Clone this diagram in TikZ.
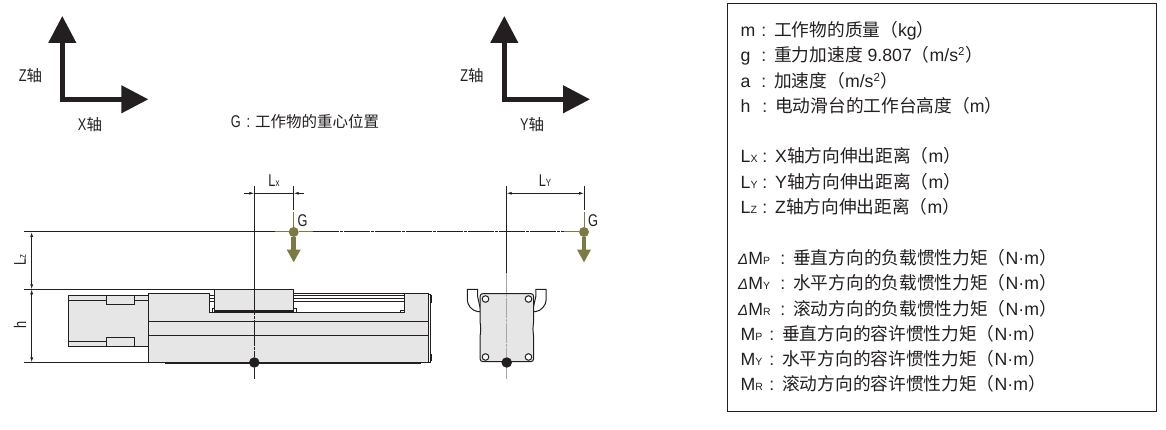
\documentclass[tikz,border=0pt]{standalone}
\usepackage{fontspec}
\setmainfont{Liberation Sans}
\newfontfamily\cjk{Noto Sans CJK SC}
\newfontfamily\narrowfont[FakeStretch=0.75]{Liberation Sans}
\usetikzlibrary{arrows.meta, calc}
\definecolor{partgray}{HTML}{E6E6E6}
\definecolor{cogolive}{HTML}{7B7A45}
\definecolor{inkblack}{HTML}{231F20}
\newcommand{\zh}[1]{{\cjk #1}}
\newcommand{\zs}[1]{{\cjk\fontsize{15.5}{15.5}\selectfont #1}}
\newcommand{\sm}[1]{{\fontsize{10.5}{10.5}\selectfont #1}}
\newcommand{\dm}{{\fontsize{15}{15}\selectfont\itshape Δ}}
\newcommand{\listkey}[2]{\makebox[#1pt][l]{#2\hfill:\hspace{8pt}}}
\newcommand{\nm}{N\textperiodcentered m}
\newcommand{\sq}{\textsuperscript{\fontsize{11.5}{11.5}\selectfont 2}}
\tikzstyle{axisline} = [line width=4.5pt, inkblack, -{Triangle[length=27pt,width=27pt]}]
\tikzstyle{axislabel} = [inner sep=0pt, font=\narrowfont\fontsize{17}{17}\selectfont, text=inkblack]
\tikzstyle{dimline} = [line width=1pt, inkblack]
\tikzstyle{dimtip} = [line width=0.8pt, inkblack, -{Latex[length=5pt,width=3pt]}]
\tikzstyle{part} = [draw=inkblack, line width=1pt, fill=partgray]
\tikzstyle{partline} = [draw=inkblack, line width=1pt]
\tikzstyle{centreline} = [line width=1pt, inkblack, dash pattern=on 26pt off 1pt on 3pt off 1pt]
\tikzstyle{cogdot} = [circle, fill=cogolive, minimum size=10pt, inner sep=0pt]
\tikzstyle{refdot} = [circle, fill=inkblack, minimum size=10.5pt, inner sep=0pt]
\tikzstyle{cogarrow} = [line width=4.5pt, cogolive, -{Triangle[length=13pt,width=13pt]}]
\tikzstyle{listline} = [anchor=base west, inner sep=0pt, font=\fontsize{17.7}{17.7}\selectfont, text=inkblack]
\begin{document}
\begin{tikzpicture}[x=1pt, y=-1pt]
    \useasboundingbox (0,0) rectangle (1166,430);
    % axes
    \coordinate (xzo) at (62.3,99.3);
    \coordinate (xzz) at (62.3,16);
    \coordinate (xzx) at (148.3,99.3);
    \coordinate (yzo) at (504.3,99.3);
    \coordinate (yzz) at (504.3,16);
    \coordinate (yzy) at (590,99.3);
    \draw[axisline] ($(xzo)+(0,2.25)$) -- (xzz);
    \draw[axisline] ($(xzo)+(-2.25,0)$) -- (xzx);
    \draw[axisline] ($(yzo)+(0,2.25)$) -- (yzz);
    \draw[axisline] ($(yzo)+(-2.25,0)$) -- (yzy);
    \node[axislabel] (zlabela) at (30.5,76) {Z\zs{轴}};
    \node[axislabel] (xlabel) at (90,125) {X\zs{轴}};
    \node[axislabel] (zlabelb) at (472,76) {Z\zs{轴}};
    \node[axislabel] (ylabel) at (532,125) {Y\zs{轴}};
    \node[axislabel] (gnote) at (305,121.5) {G\hspace{6pt}:\hspace{5pt}\zs{工作物的重心位置}};
    % side view, motor
    \draw[part] (68.3,295.3) rectangle (148.3,346.3);
    \draw[part] (106.5,295.3) rectangle (134.7,304.3);
    \draw[part] (106.5,337.3) rectangle (134.7,346.3);
    \draw[partline] (68.3,300.3) -- (106.5,300.3);
    \draw[partline] (134.7,300.3) -- (148.3,300.3);
    \draw[partline] (68.3,341.3) -- (106.5,341.3);
    % side view, body
    \draw[part] (148.3,293.3) -- (209.3,293.3) -- (209.3,312.7) -- (404.7,312.7) -- (404.7,293.3) -- (428.7,293.3) -- (428.7,362.3) -- (148.3,362.3) -- cycle;
    \draw[partline] (148.3,321.3) -- (428.7,321.3);
    \draw[partline] (148.3,335.3) -- (428.7,335.3);
    \draw[partline] (209.3,295.3) -- (214.3,295.3);
    \draw[partline] (209.3,298) -- (214.3,298);
    \draw[partline] (209.3,301.7) -- (214.3,301.7);
    \draw[partline] (293.7,293.3) -- (404.7,293.3);
    \draw[partline] (293.7,295.3) -- (404.7,295.3);
    \draw[partline] (293.7,298) -- (404.7,298);
    \draw[partline] (293.7,301.7) -- (404.7,301.7);
    \draw[partline] (400,312.7) -- (400,310) -- (404.7,310);
    \draw[partline] (212.7,312.7) -- (212.7,308.5) -- (214.3,308.5);
    \draw[partline] (293.7,308.3) -- (296.7,308.3) -- (296.7,312.7);
    \draw[part] (214.3,289.3) rectangle (293.7,311);
    \draw[inkblack, line width=2pt] (214.3,311.2) -- (293.7,311.2);
    \draw[inkblack, line width=2pt] (165,362.8) -- (420.7,362.8);
    \draw[partline] (428.7,294) -- (430.7,294) -- (430.7,362.3) -- (428.7,362.3);
    \draw[inkblack, line width=1.5pt] (431.2,295) -- (431.2,302.7);
    \draw[inkblack, line width=1.5pt] (431.2,354.3) -- (431.2,361);
    % end view
    \draw[partline, fill=white] (467.3,289.3) -- (477.5,289.3) -- (477.5,296) -- (481,311.7) -- (478,311.7) .. controls (472,311) and (467.3,305) .. (467.3,300) -- cycle;
    \draw[partline, fill=white] (546.1,289.3) -- (535.9,289.3) -- (535.9,296) -- (532.4,311.7) -- (535.4,311.7) .. controls (541.4,311) and (546.1,305) .. (546.1,300) -- cycle;
    \draw[part, rounded corners=3pt] (480,293.5) -- (533.7,293.5) -- (533.7,322) -- (532.7,329) -- (533.7,336) -- (533.7,361.7) -- (480,361.7) -- (480,336) -- (481,329) -- (480,322) -- cycle;
    \draw[inkblack, line width=1.6pt] (501,293.6) -- (530,293.6);
    \draw[inkblack, line width=1.6pt] (498,361.6) -- (515,361.6);
    \draw[partline, fill=white] (485.5,299) circle (3.3);
    \draw[partline, fill=white] (528.5,299) circle (3.3);
    \draw[partline, fill=white] (485.5,357) circle (3.3);
    \draw[partline, fill=white] (528.5,357) circle (3.3);
    % reference lines
    \node[cogdot] (gx) at (293.7,232) {};
    \node[cogdot] (gy) at (584,232) {};
    \node[refdot] (ox) at (254.3,362.5) {};
    \node[refdot] (oy) at (506.7,362.5) {};
    \coordinate (lineleft) at (24,232);
    \coordinate (olivea) at (275,232);
    \coordinate (oliveb) at (313,232);
    \coordinate (olivec) at (564,232);
    \draw[dimline] (lineleft) -- (olivea);
    \draw[centreline] (oliveb) -- (olivec);
    \draw[line width=1pt, cogolive] (olivea) -- (gx);
    \draw[line width=1pt, cogolive] (gx) -- (oliveb);
    \draw[line width=1pt, cogolive] (olivec) -- (gy);
    \draw[dimline] (24,289.3) -- (214.3,289.3);
    \draw[dimline] (24,362.3) -- (148.3,362.3);
    \draw[dimline] (254.3,186) -- (254.3,289.3);
    \draw[centreline] (254.3,289.3) -- (ox);
    \draw[dimline] (ox) -- (254.3,379);
    \draw[dimline] (293.7,186) -- (293.7,210);
    \draw[line width=0.8pt, cogolive] (293.7,212) -- (gx);
    \draw[dimline] (506.7,186) -- (506.7,273);
    \draw[line width=1.2pt, gray!70, dash pattern=on 20pt off 1pt on 3pt off 1pt] (506.7,273) -- (oy);
    \draw[line width=1.2pt, gray!70] (oy) -- (506.7,379);
    \draw[dimline] (584,186) -- (584,210);
    \draw[line width=0.8pt, cogolive] (584,212) -- (gy);
    \draw[cogarrow] (gx) -- (293.7,262.5);
    \draw[cogarrow] (gy) -- (584,262.5);
    % dimensions
    \draw[dimtip] (244,193.3) -- (254.3,193.3);
    \draw[dimline] (254.3,193.3) -- (293.7,193.3);
    \draw[dimtip] (304,193.3) -- (293.7,193.3);
    \draw[dimtip] (545,193.3) -- (506.7,193.3);
    \draw[dimtip] (545,193.3) -- (584,193.3);
    \draw[dimtip] (31.7,260) -- (31.7,232);
    \draw[dimtip] (31.7,260) -- (31.7,289.3);
    \draw[dimtip] (31.7,325) -- (31.7,289.3);
    \draw[dimtip] (31.7,325) -- (31.7,362.3);
    \node[axislabel] (lxlabel) at (274,181) {L\sm{x}};
    \node[axislabel] (lylabel) at (545,181) {L\sm{Y}};
    \node[axislabel, rotate=90] (lzlabel) at (20,260) {L\sm{z}};
    \node[axislabel, rotate=90] (hlabel) at (20,325) {h};
    \node[axislabel, anchor=west] (glabela) at (297.5,221) {G};
    \node[axislabel, anchor=west] (glabelb) at (588,221) {G};
    % list
    \node[draw=inkblack, line width=1pt, minimum width=429pt, minimum height=408.3pt, inner sep=0pt, anchor=north west] (panel) at (726.7,2.7) {};
    \node[listline] (lm) at (740.5,37) {\listkey{33.5}{m}\zh{工作物的质量（}kg\zh{）}};
    \node[listline] (lg) at (740.5,62) {\listkey{33.5}{g}\zh{重力加速度} 9.807\zh{（}m/s\sq\zh{）}};
    \node[listline] (la) at (740.5,87.3) {\listkey{33.5}{a}\zh{加速度（}m/s\sq\zh{）}};
    \node[listline] (lh) at (740.5,112.7) {\listkey{34.5}{h}\zh{电动滑台的工作台高度（}m\zh{）}};
    \node[listline] (llx) at (740.5,163) {\listkey{34.5}{L\sm{X}}X\zh{轴方向伸出距离（}m\zh{）}};
    \node[listline] (lly) at (740.5,188.5) {\listkey{34.5}{L\sm{Y}}Y\zh{轴方向伸出距离（}m\zh{）}};
    \node[listline] (llz) at (740.5,214) {\listkey{34.5}{L\sm{Z}}Z\zh{轴方向伸出距离（}m\zh{）}};
    \node[listline] (ldp) at (738,264.3) {\listkey{55}{\dm M\sm{P}}\zh{垂直方向的负载惯性力矩（}\nm\zh{）}};
    \node[listline] (ldy) at (738,289.8) {\listkey{55}{\dm M\sm{Y}}\zh{水平方向的负载惯性力矩（}\nm\zh{）}};
    \node[listline] (ldr) at (738,315) {\listkey{55}{\dm M\sm{R}}\zh{滚动方向的负载惯性力矩（}\nm\zh{）}};
    \node[listline] (lmp) at (740.5,340) {\listkey{41.5}{M\sm{P}}\zh{垂直方向的容许惯性力矩（}\nm\zh{）}};
    \node[listline] (lmy) at (740.5,365) {\listkey{41.5}{M\sm{Y}}\zh{水平方向的容许惯性力矩（}\nm\zh{）}};
    \node[listline] (lmr) at (740.5,390) {\listkey{41.5}{M\sm{R}}\zh{滚动方向的容许惯性力矩（}\nm\zh{）}};
\end{tikzpicture}
\end{document}
